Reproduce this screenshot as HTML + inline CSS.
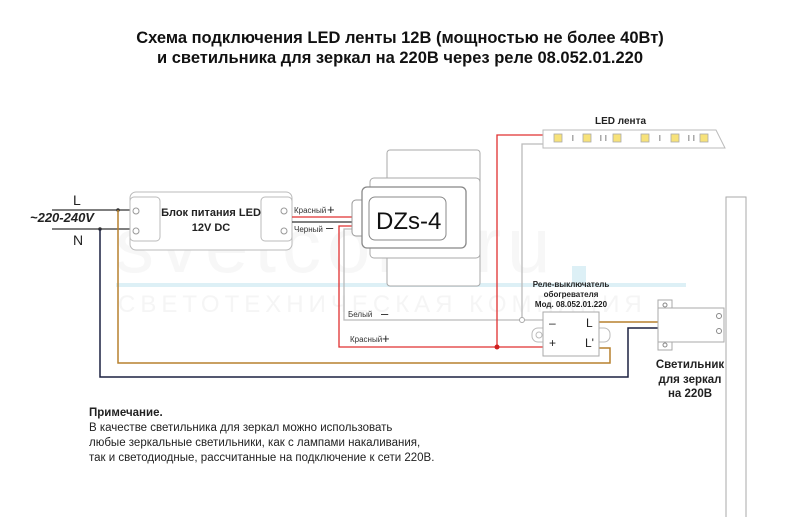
<!DOCTYPE html>
<html><head><meta charset="utf-8"><style>
body{margin:0;background:#fff;}
svg{display:block;font-family:"Liberation Sans","Noto Sans CJK SC",sans-serif;}
</style></head><body>
<svg width="800" height="517" viewBox="0 0 800 517" xmlns="http://www.w3.org/2000/svg">
<rect width="800" height="517" fill="#fff"/>
<!-- watermark -->
<text x="115" y="272" font-size="78" fill="#f7f7f7" letter-spacing="6">svetcom.ru</text>
<rect x="116" y="283" width="570" height="4" fill="#ddf0f6"/>
<rect x="572" y="266" width="14" height="18" fill="#ddf0f6"/>
<text x="118" y="312" font-size="24" fill="#f5f5f5" letter-spacing="5">СВЕТОТЕХНИЧЕСКАЯ КОМПАНИЯ</text>

<text x="400" y="43" font-size="16.5" font-weight="bold" text-anchor="middle" fill="#111">Схема подключения LED ленты 12В (мощностью не более 40Вт)</text>
<text x="400" y="63" font-size="16.5" font-weight="bold" text-anchor="middle" fill="#111">и светильника для зеркал на 220В через реле 08.052.01.220</text>

<!-- mains -->
<line x1="52" y1="210" x2="132" y2="210" stroke="#333" stroke-width="1.3"/>
<line x1="52" y1="229" x2="132" y2="229" stroke="#333" stroke-width="1.3"/>
<text x="73" y="205" font-size="14" fill="#222">L</text>
<text x="73" y="245" font-size="14" fill="#222">N</text>
<text x="30" y="222" font-size="13" font-weight="bold" font-style="italic" fill="#222">~220-240V</text>
<circle cx="118" cy="210" r="1.8" fill="#333"/>
<circle cx="100" cy="229" r="1.8" fill="#333"/>

<!-- orange & navy wires -->
<polyline points="118,210 118,363 610,363 610,348 598,348" fill="none" stroke="#b7812e" stroke-width="1.5"/>
<polyline points="100,229 100,377 628,377 628,328 660,328" fill="none" stroke="#1c2040" stroke-width="1.5"/>
<line x1="598" y1="322" x2="660" y2="322" stroke="#b7812e" stroke-width="1.5"/>

<!-- PSU -->
<rect x="130" y="192" width="162" height="58" rx="6" fill="#fff" stroke="#bbb"/>
<rect x="130" y="197" width="30" height="44" rx="4" fill="#fff" stroke="#bbb"/>
<rect x="261" y="197" width="31" height="44" rx="4" fill="#fff" stroke="#bbb"/>
<g fill="#fff" stroke="#999"><circle cx="136" cy="211" r="3"/><circle cx="136" cy="231" r="3"/><circle cx="284" cy="211" r="3"/><circle cx="284" cy="231" r="3"/></g>
<text x="211" y="216" font-size="11" font-weight="bold" text-anchor="middle" fill="#222">Блок питания LED</text>
<text x="211" y="231" font-size="11" font-weight="bold" text-anchor="middle" fill="#222">12V DC</text>

<!-- PSU to DZs -->
<line x1="292" y1="217" x2="352" y2="217" stroke="#e03030" stroke-width="1.3"/>
<line x1="292" y1="222" x2="352" y2="222" stroke="#333" stroke-width="1.3"/>
<text x="294" y="213" font-size="8" fill="#333">Красный</text>
<text x="327" y="214" font-size="13" fill="#222">+</text>
<text x="294" y="232" font-size="8" fill="#333">Черный</text>
<text x="326" y="232" font-size="13" fill="#222">–</text>

<!-- red and gray wires from DZs -->
<polyline points="352,226 339,226 339,347 543,347" fill="none" stroke="#e03030" stroke-width="1.3"/>
<polyline points="352,229 344,229 344,320 543,320" fill="none" stroke="#bbb" stroke-width="1.3"/>
<text x="348" y="317" font-size="8" fill="#333">Белый</text>
<text x="381" y="318" font-size="13" fill="#222">–</text>
<text x="350" y="342" font-size="8" fill="#333">Красный</text>
<text x="382" y="343" font-size="13" fill="#222">+</text>

<polyline points="497,347 497,135 546,135" fill="none" stroke="#e03030" stroke-width="1.3"/>
<circle cx="497" cy="347" r="2.5" fill="#d02020"/>
<polyline points="522,320 522,144 546,144" fill="none" stroke="#bbb" stroke-width="1.3"/>
<circle cx="522" cy="320" r="2.5" fill="#fff" stroke="#aaa"/>

<!-- DZs-4 -->
<rect x="387" y="150" width="93" height="136" rx="3" fill="#fff" stroke="#aaa"/>
<rect x="370" y="178" width="110" height="80" rx="4" fill="#fff" stroke="#aaa"/>
<rect x="352" y="200" width="14" height="36" rx="4" fill="#fff" stroke="#999"/>
<rect x="362" y="187" width="104" height="61" rx="5" fill="#fff" stroke="#888" stroke-width="1.3"/>
<rect x="369" y="197" width="77" height="43" rx="6" fill="#fff" stroke="#888"/>
<text x="376" y="229" font-size="24" fill="#111">DZs-4</text>

<!-- LED strip -->
<polygon points="543,130 716,130 725,148 543,148" fill="#fff" stroke="#bbb"/>
<g fill="#f7e27a" stroke="#aaa" stroke-width="0.8">
<rect x="554" y="134" width="8" height="8"/><rect x="583" y="134" width="8" height="8"/><rect x="613" y="134" width="8" height="8"/><rect x="641" y="134" width="8" height="8"/><rect x="671" y="134" width="8" height="8"/><rect x="700" y="134" width="8" height="8"/></g>
<g fill="#aaa"><rect x="572" y="135" width="1.5" height="6"/><rect x="600" y="135" width="1.5" height="6"/><rect x="605" y="135" width="1.5" height="6"/><rect x="659" y="135" width="1.5" height="6"/><rect x="688" y="135" width="1.5" height="6"/><rect x="693" y="135" width="1.5" height="6"/></g>
<text x="595" y="124" font-size="10" font-weight="bold" fill="#222">LED лента</text>

<!-- relay -->
<rect x="532" y="328" width="78" height="14" rx="6" fill="#fff" stroke="#bbb"/>
<circle cx="539" cy="335" r="3" fill="#fff" stroke="#bbb"/>
<rect x="543" y="312" width="56" height="44" fill="#fff" stroke="#aaa"/>
<text x="549" y="327" font-size="12" fill="#222">–</text>
<text x="549" y="347" font-size="12" fill="#222">+</text>
<text x="586" y="327" font-size="12" fill="#222">L</text>
<text x="585" y="347" font-size="12" fill="#222">L'</text>
<text x="571" y="287" font-size="8" font-weight="bold" text-anchor="middle" fill="#222">Реле-выключатель</text>
<text x="571" y="297" font-size="8" font-weight="bold" text-anchor="middle" fill="#222">обогревателя</text>
<text x="571" y="307" font-size="8" font-weight="bold" text-anchor="middle" fill="#222">Мод. 08.052.01.220</text>

<!-- mirror and lamp -->
<rect x="726" y="197" width="20" height="325" fill="#fff" stroke="#aaa"/>
<rect x="658" y="300" width="14" height="12" fill="#fff" stroke="#aaa"/>
<rect x="658" y="338" width="14" height="12" fill="#fff" stroke="#aaa"/>
<rect x="658" y="308" width="66" height="34" fill="#fff" stroke="#aaa"/>
<circle cx="665" cy="305" r="2" fill="#fff" stroke="#888"/>
<circle cx="665" cy="345" r="2" fill="#fff" stroke="#888"/>
<circle cx="719" cy="316" r="2.5" fill="#fff" stroke="#888"/>
<circle cx="719" cy="331" r="2.5" fill="#fff" stroke="#888"/>
<text x="690" y="368" font-size="11.5" font-weight="bold" text-anchor="middle" fill="#222">Светильник</text>
<text x="690" y="383" font-size="11.5" font-weight="bold" text-anchor="middle" fill="#222">для зеркал</text>
<text x="690" y="397" font-size="11.5" font-weight="bold" text-anchor="middle" fill="#222">на 220В</text>

<!-- note -->
<text x="89" y="416" font-size="11.5" font-weight="bold" fill="#222">Примечание.</text>
<text x="89" y="431" font-size="11.5" fill="#222">В качестве светильника для зеркал можно использовать</text>
<text x="89" y="446" font-size="11.5" fill="#222">любые зеркальные светильники, как с лампами накаливания,</text>
<text x="89" y="461" font-size="11.5" fill="#222">так и светодиодные, рассчитанные на подключение к сети 220В.</text>
</svg>
</body></html>
